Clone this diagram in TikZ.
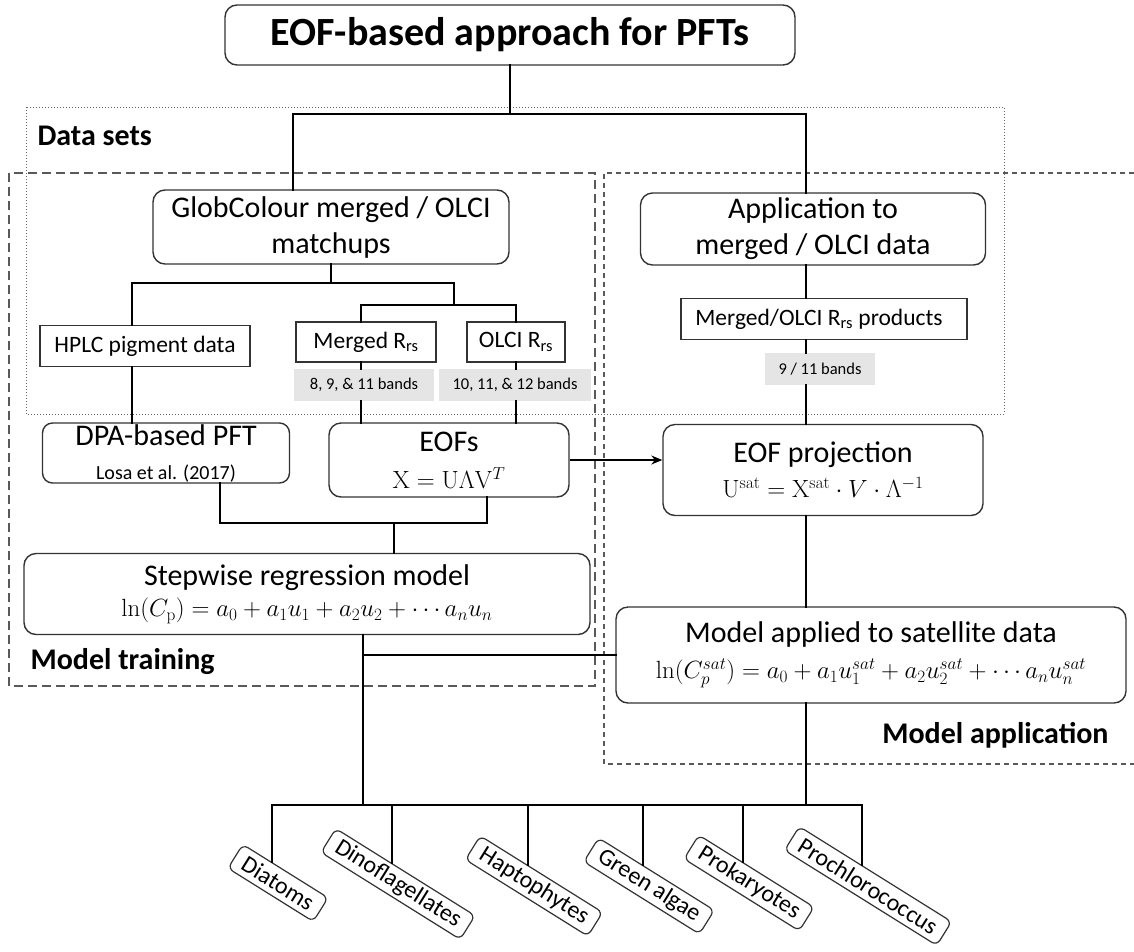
\documentclass[tikz,border=0pt]{standalone}
\usepackage[no-math]{fontspec}
\setmainfont{Carlito}
\usetikzlibrary{arrows.meta}
\begin{document}
\begin{tikzpicture}[x=1pt,y=-1pt,>={Stealth[length=11pt,width=9pt]},line cap=rect,
	blk/.style={draw=black!80,line width=1.4pt,rounded corners=12pt,align=center,inner sep=0pt},
	sq/.style={draw=black!80,line width=1.4pt,align=center,inner sep=0pt,font=\fontsize{23.5}{27}\selectfont},
	band/.style={fill=black!10,inner sep=0pt,minimum height=32pt,font=\fontsize{16.5}{19}\selectfont},
	pft/.style={draw=black!80,line width=1.2pt,rounded corners=6pt,rotate=-32,minimum height=28pt,inner xsep=10pt,inner ysep=0pt,font=\fontsize{24}{26}\selectfont,anchor=138},
	wire/.style={line width=2.5pt},
	grp/.style={draw=black!65,line width=1.4pt,line cap=butt,dash pattern=on 9pt off 5pt},
	head/.style={font=\bfseries\fontsize{30}{34}\selectfont},
	big/.style={font=\fontsize{30}{35}\selectfont}]
	\useasboundingbox (0,0) rectangle (1134,951);
	% group frames
	\draw[draw=black!60,line width=1pt,line cap=butt,dotted] (26,107) rectangle (1004,414);
	\draw[grp] (9,173) rectangle (595,686);
	\draw[grp,dash pattern=on 5pt off 4pt] (1134,173) -- (604,173) -- (604,764) -- (1134,764);
	\node[head,anchor=west] (lds) at (34,136) {Data sets};
	\node[head,anchor=west] (lmt) at (27,662) {Model training};
	\node[head,anchor=east] (lma) at (1112,735) {Model application};
	% boxes
	\node[blk,font=\bfseries\fontsize{40}{44}\selectfont,minimum width=570pt,minimum height=60pt] (top) at (510,35) {EOF-based approach for PFTs};
	\node[blk,font=\fontsize{30}{36}\selectfont,minimum width=356pt,minimum height=74pt] (glob) at (331,227) {GlobColour merged / OLCI\\matchups};
	\node[blk,font=\fontsize{30}{36}\selectfont,minimum width=345pt,minimum height=72pt] (app) at (813,229) {Application to\\merged / OLCI data};
	\node[sq,minimum width=210pt,minimum height=41pt] (hplc) at (145,346) {HPLC pigment data};
	\node[sq,minimum width=140pt,minimum height=40pt] (mrg) at (366,342) {Merged R\textsubscript{rs}};
	\node[sq,minimum width=98pt,minimum height=40pt] (olci) at (516,342) {OLCI R\textsubscript{rs}};
	\node[sq,minimum width=286pt,minimum height=41pt] (prod) at (824,319) {Merged/OLCI R\textsubscript{rs} products\hspace*{10pt}};
	\node[band,minimum width=140pt] (b1) at (364,385) {8, 9, \& 11 bands};
	\node[band,minimum width=152pt] (b2) at (515,385) {10, 11, \& 12 bands};
	\node[band,minimum width=110pt] (b3) at (820,369) {9 / 11 bands};
	\node[blk,big,rounded corners=10pt,minimum width=247pt,minimum height=60pt] (dpa) at (166,453) {DPA-based PFT\\[-1pt]{\fontsize{20}{22}\selectfont Losa et al. (2017)}};
	\node[blk,big,minimum width=240pt,minimum height=74pt] (eofs) at (449,460) {EOFs\\[2pt]{\fontsize{26}{28}\selectfont $\mathrm{X}=\mathrm{U}\Lambda\mathrm{V}^{T}$}};
	\node[blk,big,minimum width=320pt,minimum height=91pt] (eofp) at (823,470) {EOF projection\\{\fontsize{23}{26}\selectfont $\mathrm{U}^{\mathrm{sat}}=\mathrm{X}^{\mathrm{sat}}\cdot V\cdot\Lambda^{-1}$}};
	\node[blk,big,minimum width=566pt,minimum height=81pt] (step) at (307,594) {Stepwise regression model\\[-4pt]{\fontsize{25}{28}\selectfont $\ln\bigl(C_{\mathrm{p}}\bigr)=a_0+a_1u_1+a_2u_2+\cdots a_nu_n$}};
	\node[blk,font=\fontsize{30}{36}\selectfont,minimum width=510pt,minimum height=96pt] (msat) at (871,655) {Model applied to satellite data\\{\fontsize{26}{28}\selectfont $\ln\bigl(C_p^{sat}\bigr)=a_0+a_1u_1^{sat}+a_2u_2^{sat}+\cdots a_nu_n^{sat}$}};
	% split points
	\coordinate (jl) at (293,114);
	\coordinate (jr) at (806,114);
	\coordinate (ja) at (132,283);
	\coordinate (jb) at (454,283);
	\coordinate (jc) at (361,305);
	\coordinate (jd) at (516,305);
	\coordinate (je) at (220,523);
	\coordinate (jf) at (487,523);
	\coordinate (jg) at (394,523);
	\coordinate (jh) at (363,655);
	\draw[wire] (top.south) -- (top.south |- jl);
	\draw[wire] (glob.north -| jl) -- (jl) -- (jr) -- (app.north -| jr);
	\draw[wire] (glob.south) -- (glob.south |- ja);
	\draw[wire] (hplc.north -| ja) -- (ja) -- (jb) -- (jb |- jc);
	\draw[wire] (mrg.north -| jc) -- (jc) -- (jd) -- (olci.north -| jd);
	\draw[wire] (hplc.south -| ja) -- (dpa.north -| ja);
	\draw[wire] (mrg.south -| jc) -- (b1.north -| jc);
	\draw[wire] (b1.south -| jc) -- (eofs.north -| jc);
	\draw[wire] (olci.south -| jd) -- (b2.north -| jd);
	\draw[wire] (b2.south -| jd) -- (eofs.north -| jd);
	\draw[wire] (app.south -| jr) -- (prod.north -| jr);
	\draw[wire] (prod.south -| jr) -- (b3.north -| jr);
	\draw[wire] (b3.south -| jr) -- (eofp.north -| jr);
	\draw[wire] (eofp.south -| jr) -- (msat.north -| jr);
	\draw[wire] (dpa.south -| je) -- (je) -- (jf) -- (eofs.south -| jf);
	\draw[wire] (jg) -- (step.north -| jg);
	\draw[wire] (jh) -- (msat.west);
	\draw[->,line width=1.3pt,line cap=butt] (eofs.east) -- (eofs.east -| eofp.west);
	% PFT groups
	\coordinate (p1) at (272,805);
	\coordinate (p2) at (392,805);
	\coordinate (p3) at (528,805);
	\coordinate (p4) at (643,805);
	\coordinate (p5) at (743,805);
	\coordinate (p6) at (862,805);
	\draw[wire] (step.south -| jh) -- (jh |- p1);
	\draw[wire] (msat.south -| jr) -- (jr |- p1);
	\draw[wire] (p1) -- (p6);
	\node[pft] (dia) at (272,862) {Diatoms};
	\node[pft] (din) at (392,863) {Dinoflagellates};
	\node[pft] (hap) at (528,865) {Haptophytes};
	\node[pft] (gre) at (643,865) {Green algae};
	\node[pft] (pro) at (743,862) {Prokaryotes};
	\node[pft] (prc) at (862,865) {Prochlorococcus};
	\draw[wire] (p1) -- (dia.138);
	\draw[wire] (p2) -- (din.138);
	\draw[wire] (p3) -- (hap.138);
	\draw[wire] (p4) -- (gre.138);
	\draw[wire] (p5) -- (pro.138);
	\draw[wire] (p6) -- (prc.138);
\end{tikzpicture}
\end{document}
